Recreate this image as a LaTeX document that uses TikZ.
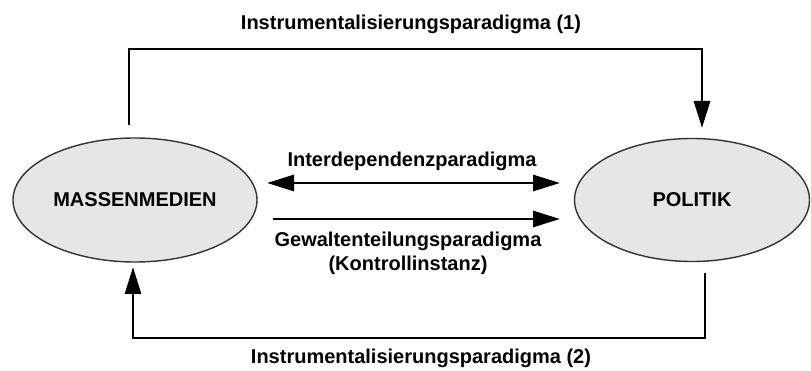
\documentclass[tikz,border=0pt]{standalone}
\usepackage{fontspec}
\setmainfont{Liberation Sans}
\usetikzlibrary{arrows.meta,shapes.geometric}
\definecolor{ovalfill}{HTML}{E6E6E6}
\definecolor{ovaledge}{HTML}{333333}
\tikzset{
  oval/.style={ellipse, draw=ovaledge, line width=1.4pt, fill=ovalfill,
    inner sep=0pt, font=\fontsize{20}{24}\selectfont\bfseries},
  link/.style={line width=2.9pt, draw=black,
    -{Triangle[length=27pt,width=16pt]}},
  twoway/.style={line width=2.9pt, draw=black,
    {Triangle[length=27pt,width=16pt]}-{Triangle[length=27pt,width=16pt]}},
  tag/.style={font=\fontsize{20}{24}\selectfont\bfseries, inner sep=0pt,
    align=center}
}
\begin{document}
\begin{tikzpicture}[x=1pt,y=-1pt]
  \useasboundingbox (0,0) rectangle (811,371);
  % the two actors
  \node[oval, minimum width=244pt, minimum height=124pt] (med) at (135,200) {MASSENMEDIEN};
  \node[oval, minimum width=235pt, minimum height=123pt] (pol) at (692,200) {POLITIK};
  % corner points of the outer loops
  \coordinate (m1) at (129,125);
  \coordinate (c1) at (129,49);
  \coordinate (c2) at (702,49);
  \coordinate (p1) at (702,128);
  \coordinate (p2) at (705,273);
  \coordinate (c3) at (705,338);
  \coordinate (c4) at (133,338);
  \coordinate (m2) at (133,267);
  % middle arrows
  \coordinate (a1) at (267,183);
  \coordinate (a2) at (560,183);
  \coordinate (b1) at (273,219);
  \coordinate (b2) at (560,219);
  % connectors
  \draw[link] (m1) -- (c1) -- (c2) -- (p1);
  \draw[link] (p2) -- (c3) -- (c4) -- (m2);
  \draw[twoway] (a1) -- (a2);
  \draw[link] (b1) -- (b2);
  % labels
  \node[tag] (t1) at (411,24) {Instrumentalisierungsparadigma (1)};
  \node[tag] (t2) at (412,161) {Interdependenzparadigma};
  \node[tag] (t3) at (408,253) {Gewaltenteilungsparadigma\\(Kontrollinstanz)};
  \node[tag] (t4) at (421,358) {Instrumentalisierungsparadigma (2)};
\end{tikzpicture}
\end{document}
